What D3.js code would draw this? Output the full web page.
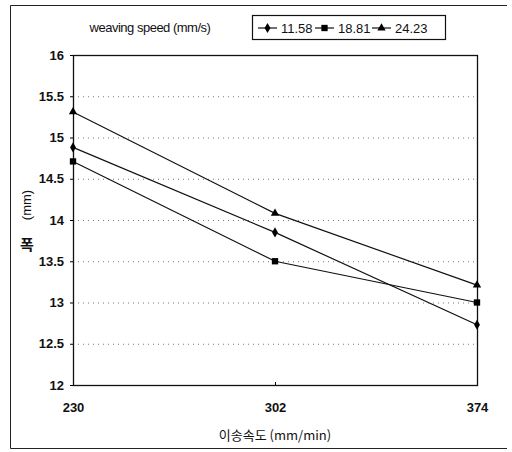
<!DOCTYPE html>
<html>
<head>
<meta charset="utf-8">
<script src="https://cdn.jsdelivr.net/npm/d3@7"></script>
<style>
  body { margin: 0; background: #fff; }
  svg { font-family: "Liberation Sans", Arial, sans-serif; }
</style>
</head>
<body>
<svg id="chart" width="512" height="452"></svg>
<script>
// feed rate categories (mm/min)
var feedRates = [230, 302, 374];
var seriesNames = ["11.58", "18.81", "24.23"];
var values1158 = [14.88, 13.85, 12.73];
var values1881 = [14.71, 13.50, 13.00];
var values2423 = [15.31, 14.08, 13.21];
var yTicks = [12, 12.5, 13, 13.5, 14, 14.5, 15, 15.5, 16];

var series = [
  {name: seriesNames[0], values: values1158, symbol: d3.symbolDiamond, size: 30},
  {name: seriesNames[1], values: values1881, symbol: d3.symbolSquare, size: 40},
  {name: seriesNames[2], values: values2423, symbol: d3.symbolTriangle, size: 30}
];

var margin = {top: 55, right: 35, bottom: 67, left: 73};
var width = 512 - margin.left - margin.right;
var height = 452 - margin.top - margin.bottom;

var svg = d3.select("#chart");

// outer frame (right side faded in the scan)
svg.append("path")
  .attr("d", "M507,5.5H10.5V448.5H507")
  .attr("fill", "none")
  .attr("stroke", "#222")
  .attr("stroke-width", 1);

var g = svg.append("g")
  .attr("transform", "translate(" + margin.left + "," + margin.top + ")");

var x = d3.scaleLinear().domain([230, 374]).range([0, width]);
var y = d3.scaleLinear().domain([12, 16]).range([height, 0]);

// dotted grid
g.append("g")
  .selectAll("line")
  .data(yTicks.slice(1, -1))
  .enter().append("line")
    .attr("x1", 0)
    .attr("x2", width)
    .attr("y1", function(d) { return y(d) + 0.5; })
    .attr("y2", function(d) { return y(d) + 0.5; })
    .attr("stroke", "#777")
    .attr("stroke-width", 1)
    .attr("stroke-dasharray", "1,4");

var yAxis = g.append("g")
  .attr("class", "y axis")
  .call(d3.axisLeft(y).tickValues(yTicks).tickSize(3).tickFormat(d3.format("")));
yAxis.select(".domain").remove();
yAxis.selectAll("text")
  .attr("x", -9)
  .attr("font-size", "13px")
  .attr("font-weight", "bold")
  .attr("fill", "#111")
  .attr("font-family", "Liberation Sans, Arial, sans-serif");

var xAxis = g.append("g")
  .attr("class", "x axis")
  .attr("transform", "translate(0," + height + ")")
  .call(d3.axisBottom(x).tickValues(feedRates).tickSize(-3).tickFormat(d3.format("d")));
xAxis.select(".domain").remove();
xAxis.selectAll("text")
  .attr("y", 18)
  .attr("font-size", "13px")
  .attr("font-weight", "bold")
  .attr("fill", "#111")
  .attr("font-family", "Liberation Sans, Arial, sans-serif");

// plot border
g.append("rect")
  .attr("x", 0.5)
  .attr("y", 0.5)
  .attr("width", width)
  .attr("height", height)
  .attr("fill", "none")
  .attr("stroke", "#111")
  .attr("stroke-width", 1.3);

var line = d3.line()
  .x(function(d, i) { return x(feedRates[i]); })
  .y(function(d) { return y(d); });

g.append("g")
  .selectAll("path")
  .data(series)
  .enter().append("path")
    .attr("d", function(d) { return line(d.values); })
    .attr("fill", "none")
    .attr("stroke", "#111")
    .attr("stroke-width", 1.2);

series.forEach(function(s) {
  g.append("g")
    .selectAll("path")
    .data(s.values)
    .enter().append("path")
      .attr("transform", function(d, i) { return "translate(" + x(feedRates[i]) + "," + y(d) + ")"; })
      .attr("d", d3.symbol().type(s.symbol).size(s.size))
      .attr("fill", "#000");
});

// axis titles
svg.append("text")
  .attr("x", margin.left + width / 2)
  .attr("y", 440)
  .attr("text-anchor", "middle")
  .attr("font-size", "13px")
  .attr("fill", "#111")
  .attr("font-family", "Noto Sans CJK KR, sans-serif")
  .text("이송속도 (mm/min)");

svg.append("text")
  .attr("transform", "translate(31,205) rotate(-90)")
  .attr("text-anchor", "middle")
  .attr("font-size", "13px")
  .attr("fill", "#111")
  .text("(mm)");
svg.append("text")
  .attr("x", 27)
  .attr("y", 250)
  .attr("text-anchor", "middle")
  .attr("font-size", "15px")
  .attr("font-weight", "bold")
  .attr("fill", "#111")
  .attr("font-family", "Noto Sans CJK KR, sans-serif")
  .text("폭");

// legend
svg.append("text")
  .attr("x", 150)
  .attr("y", 32)
  .attr("text-anchor", "middle")
  .attr("font-size", "13px")
  .attr("letter-spacing", "-0.5px")
  .attr("fill", "#111")
  .text("weaving speed (mm/s)");

svg.append("rect")
  .attr("x", 252.5)
  .attr("y", 15.5)
  .attr("width", 193)
  .attr("height", 24)
  .attr("fill", "#fff")
  .attr("stroke", "#111")
  .attr("stroke-width", 1.2);

var legend = svg.append("g")
  .selectAll("g")
  .data(series)
  .enter().append("g")
    .attr("transform", function(d, i) { return "translate(" + (258 + i * 57) + ",28)"; });

legend.append("line")
  .attr("x1", 0)
  .attr("x2", 19)
  .attr("stroke", "#111")
  .attr("stroke-width", 1.2);
legend.append("path")
  .attr("transform", "translate(9.5,0)")
  .attr("d", function(d) { return d3.symbol().type(d.symbol).size(d.size)(); })
  .attr("fill", "#000");
legend.append("text")
  .attr("x", 23)
  .attr("y", 5)
  .attr("font-size", "13px")
  .attr("fill", "#111")
  .text(function(d) { return d.name; });
</script>
</body>
</html>
